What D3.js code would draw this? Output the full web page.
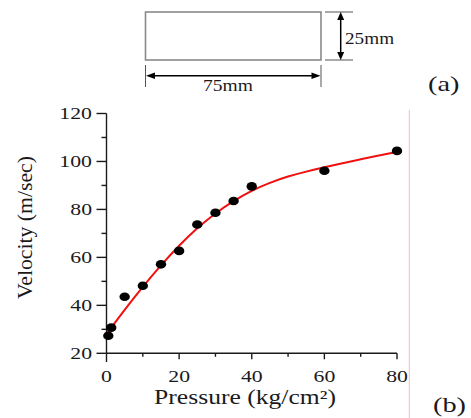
<!DOCTYPE html>
<html>
<head>
<meta charset="utf-8">
<script src="https://cdn.jsdelivr.net/npm/d3@7"></script>
<style>
  html, body { margin: 0; padding: 0; background: #fff; }
  svg { display: block; }
  text { font-family: "Liberation Serif", "Times New Roman", Tinos, serif; fill: #1a1a1a; }
</style>
</head>
<body>
<svg id="chart" width="471" height="418"></svg>
<script>
// ---- data ----
const pressure = [0.5, 1.3, 5, 10, 15, 20, 25, 30, 35, 40, 60, 80];
const velocity = [27.3, 30.7, 43.6, 48.2, 57.1, 62.7, 73.7, 78.6, 83.5, 89.6, 96.1, 104.4];
const fitPressure = [0, 5, 10, 15, 20, 25, 30, 35, 40, 45, 50, 55, 60, 65, 70, 75, 80];
const fitVelocity = [28, 38.2, 47.8, 56.8, 65, 72.3, 78.5, 83.6, 87.9, 91.2, 93.8, 95.8, 97.6, 99.3, 100.9, 102.5, 104];
const xTicks = [0, 10, 20, 30, 40, 50, 60, 70, 80];
const xLabels = [0, 20, 40, 60, 80];
const yTicks = [20, 30, 40, 50, 60, 70, 80, 90, 100, 110, 120];
const yLabels = [20, 40, 60, 80, 100, 120];
const xTitle = "Pressure (kg/cm\u00B2)";
const yTitle = "Velocity (m/sec)";
const dimW = "75mm", dimH = "25mm";
const panelA = "(a)", panelB = "(b)";

const svg = d3.select("#chart");
const ink = "#1a1a1a";
const SX = 1.28; // horizontal stretch of the original raster text

const x = d3.scaleLinear().domain([0, 80]).range([106.5, 397]);
const y = d3.scaleLinear().domain([20, 120]).range([353.3, 113.5]);

function stretchedText(g, tx, ty, str, size, anchor, sx) {
  return g.append("g").attr("transform", `translate(${tx},${ty}) scale(${sx},1)`)
    .append("text").attr("x", 0).attr("y", 0)
    .attr("font-size", size).attr("text-anchor", anchor).text(str);
}

// ---- panel (a): specimen sketch ----
const a = svg.append("g");
a.append("rect").attr("x", 145.5).attr("y", 12).attr("width", 175.5).attr("height", 48)
  .attr("fill", "none").attr("stroke", "#8a8a8a").attr("stroke-width", 1.6);
a.append("line").attr("x1", 325).attr("x2", 353).attr("y1", 12).attr("y2", 12).attr("stroke", "#555").attr("stroke-width", 1);
a.append("line").attr("x1", 325).attr("x2", 353).attr("y1", 60).attr("y2", 60).attr("stroke", "#555").attr("stroke-width", 1);
a.append("line").attr("x1", 145.5).attr("x2", 145.5).attr("y1", 65).attr("y2", 87).attr("stroke", "#555").attr("stroke-width", 1);
a.append("line").attr("x1", 321).attr("x2", 321).attr("y1", 65).attr("y2", 87).attr("stroke", "#555").attr("stroke-width", 1);
a.append("line").attr("x1", 340.7).attr("x2", 340.7).attr("y1", 18).attr("y2", 54).attr("stroke", "#000").attr("stroke-width", 1.5);
a.append("path").attr("d", "M340.7,12 L337.2,20 L344.2,20 Z").attr("fill", "#000");
a.append("path").attr("d", "M340.7,60 L337.2,52 L344.2,52 Z").attr("fill", "#000");
a.append("line").attr("x1", 152).attr("x2", 314).attr("y1", 75.7).attr("y2", 75.7).attr("stroke", "#000").attr("stroke-width", 1.5);
a.append("path").attr("d", "M146,75.7 L155,72.4 L155,79 Z").attr("fill", "#000");
a.append("path").attr("d", "M320.5,75.7 L311.5,72.4 L311.5,79 Z").attr("fill", "#000");
stretchedText(a, 345, 44, dimH, 17, "start", 1.13);
stretchedText(a, 228, 90.5, dimW, 16, "middle", 1.22);
stretchedText(a, 428, 91, panelA, 21, "start", 1.35);

// ---- panel (b) ----
svg.append("line").attr("x1", 409.3).attr("x2", 409.3).attr("y1", 110).attr("y2", 418)
  .attr("stroke", "#f6b9bd").attr("stroke-width", 1);

const gx = svg.append("g");
gx.append("line").attr("x1", x(0)).attr("x2", x(80)).attr("y1", y(20)).attr("y2", y(20))
  .attr("stroke", ink).attr("stroke-width", 1.4);
gx.selectAll("line.tick").data(xTicks).join("line").attr("class", "tick")
  .attr("x1", d => x(d)).attr("x2", d => x(d))
  .attr("y1", y(20))
  .attr("y2", d => y(20) + (d === 0 ? 8.7 : (xLabels.includes(d) ? 6 : 3.5)))
  .attr("stroke", ink).attr("stroke-width", 1.4);
xLabels.forEach(d => stretchedText(gx, x(d), 381.5, String(d), 17, "middle", SX));

const gy = svg.append("g");
gy.append("line").attr("x1", x(0)).attr("x2", x(0)).attr("y1", y(20)).attr("y2", y(120))
  .attr("stroke", ink).attr("stroke-width", 1.4);
gy.selectAll("line.tick").data(yTicks).join("line").attr("class", "tick")
  .attr("x1", x(0)).attr("x2", d => x(0) - (yLabels.includes(d) ? 10 : 5))
  .attr("y1", d => y(d)).attr("y2", d => y(d))
  .attr("stroke", ink).attr("stroke-width", 1.4);
yLabels.forEach(d => stretchedText(gy, 92, y(d) + 5.8, String(d), 17, "end", SX));

stretchedText(svg, 245, 404, xTitle, 20, "middle", SX);
svg.append("text").attr("transform", "translate(32,227.5) rotate(-90)")
  .attr("font-size", 20).attr("text-anchor", "middle")
  .attr("textLength", 143).attr("lengthAdjust", "spacingAndGlyphs")
  .text(yTitle);
stretchedText(svg, 433, 411.5, panelB, 21, "start", 1.35);

const fit = fitPressure.map((p, i) => [p, fitVelocity[i]]);
svg.append("path").datum(fit)
  .attr("d", d3.line().x(d => x(d[0])).y(d => y(d[1])).curve(d3.curveBasis))
  .attr("fill", "none").attr("stroke", "#f01010").attr("stroke-width", 2);

svg.selectAll("ellipse.pt").data(pressure.map((p, i) => [p, velocity[i]])).join("ellipse")
  .attr("class", "pt")
  .attr("cx", d => x(d[0])).attr("cy", d => y(d[1]))
  .attr("rx", 5.2).attr("ry", 4.3).attr("fill", "#000");
</script>
</body>
</html>
